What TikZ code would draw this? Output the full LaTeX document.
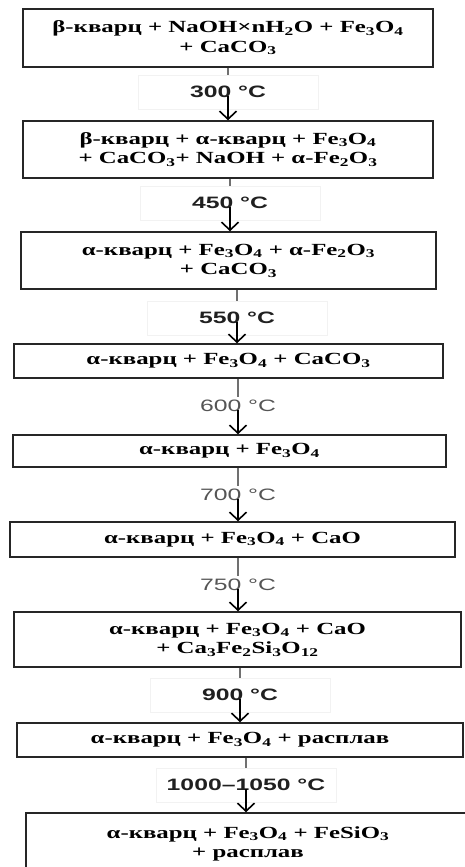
\documentclass[tikz,border=0pt]{standalone}
\usepackage{fontspec}
\usetikzlibrary{arrows.meta}
\newfontfamily\boxfont[FakeStretch=1.46]{Liberation Serif}
\newfontfamily\labfont[FakeStretch=1.5]{Liberation Sans}
\newcommand{\sbs}[1]{\textsubscript{#1}}
\definecolor{labdark}{HTML}{202020}
\definecolor{labgrey}{HTML}{555555}
\definecolor{upline}{HTML}{707070}
\definecolor{frameline}{HTML}{F2F2F2}
\tikzset{
  stage/.style={draw=black!85, line width=1.5pt, rectangle, inner sep=0pt, align=center,
    font=\boxfont\bfseries\fontsize{17}{19.5}\selectfont, text=black},
  tlabel/.style={inner sep=2pt, font=\labfont\bfseries\fontsize{16.5}{19}\selectfont, text=labdark,
    draw=frameline, line width=0.8pt, minimum width=180pt, minimum height=34pt},
  tlabelgrey/.style={inner sep=3pt, font=\labfont\fontsize{16.5}{19}\selectfont, text=labgrey},
  upconn/.style={draw=upline, line width=1.4pt},
  downconn/.style={draw=black, line width=1.5pt, -{Straight Barb[length=8pt,width=17pt,line width=1.6pt]}}
}
\begin{document}
\begin{tikzpicture}[x=1pt,y=-1pt]
\useasboundingbox (0,0) rectangle (465,867);
\clip (0,0) rectangle (465,867);
% stages
\node[stage, minimum width=410pt, minimum height=58pt] (s1) at (228,38)
  {β-кварц + NaOH×nH\sbs{2}O + Fe\sbs{3}O\sbs{4}\\+ CaCO\sbs{3}};
\node[stage, minimum width=410pt, minimum height=57pt] (s2) at (228,149.5)
  {β-кварц + α-кварц + Fe\sbs{3}O\sbs{4}\\+ CaCO\sbs{3}+ NaOH + α-Fe\sbs{2}O\sbs{3}};
\node[stage, minimum width=415pt, minimum height=57pt] (s3) at (228.5,260.5)
  {α-кварц + Fe\sbs{3}O\sbs{4} + α-Fe\sbs{2}O\sbs{3}\\+ CaCO\sbs{3}};
\node[stage, minimum width=429pt, minimum height=34pt] (s4) at (228.5,361)
  {α-кварц + Fe\sbs{3}O\sbs{4} + CaCO\sbs{3}};
\node[stage, minimum width=433pt, minimum height=32pt] (s5) at (229.5,451)
  {α-кварц + Fe\sbs{3}O\sbs{4}};
\node[stage, minimum width=445pt, minimum height=35pt] (s6) at (232.5,539.5)
  {α-кварц + Fe\sbs{3}O\sbs{4} + CaO};
\node[stage, minimum width=447pt, minimum height=55pt] (s7) at (237.5,639.5)
  {α-кварц + Fe\sbs{3}O\sbs{4} + CaO\\+ Ca\sbs{3}Fe\sbs{2}Si\sbs{3}O\sbs{12}};
\node[stage, minimum width=446pt, minimum height=34pt] (s8) at (240,740)
  {α-кварц + Fe\sbs{3}O\sbs{4} + расплав};
\node[stage, minimum width=444pt, minimum height=62pt] (s9) at (248,844)
  {α-кварц + Fe\sbs{3}O\sbs{4} + FeSiO\sbs{3}\\+ расплав};
% temperature labels
\node[tlabel] (t1) at (228,92) {300 °C};
\node[tlabel] (t2) at (230,203) {450 °C};
\node[tlabel] (t3) at (237,318) {550 °C};
\node[tlabelgrey] (t4) at (238,406) {600 °C};
\node[tlabelgrey] (t5) at (238,495) {700 °C};
\node[tlabelgrey] (t6) at (238,585) {750 °C};
\node[tlabel] (t7) at (240,695) {900 °C};
\node[tlabel] (t8) at (246,785) {1000–1050 °C};
% connectors
\foreach \a/\t/\b in {s1/t1/s2, s2/t2/s3, s3/t3/s4, s4/t4/s5, s5/t5/s6, s6/t6/s7, s7/t7/s8, s8/t8/s9}{
  \draw[upconn] (\a.south -| \t.center) -- (\t.north);
  \draw[downconn] ([yshift=-4pt]\t.center) -- (\b.north -| \t.center);
}
\end{tikzpicture}
\end{document}
